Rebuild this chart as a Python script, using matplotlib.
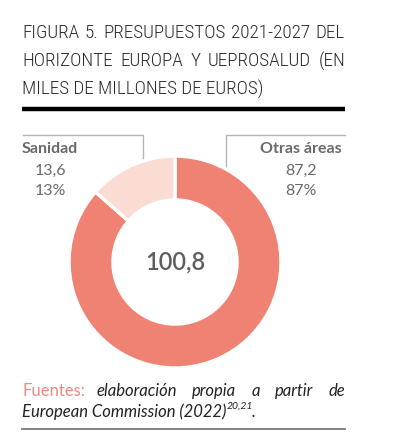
import matplotlib
matplotlib.use("Agg")
import matplotlib.pyplot as plt
from matplotlib import font_manager

# data
labels = ["Otras áreas", "Sanidad"]
values = [87.2, 13.6]
shares = ["87%", "13%"]
value_txt = ["87,2", "13,6"]
total_txt = "100,8"
colors = ["#f08273", "#fadcd3"]

title_lines = ["FIGURA 5. PRESUPUESTOS 2021-2027 DEL",
               "HORIZONTE EUROPA Y UEPROSALUD (EN",
               "MILES DE MILLONES DE EUROS)"]

W, H = 395, 448
fig = plt.figure(figsize=(W / 100, H / 100), dpi=100)
bg = fig.add_axes([0, 0, 1, 1])
bg.set_xlim(0, W)
bg.set_ylim(H, 0)
bg.axis("off")

avail = {f.name for f in font_manager.fontManager.ttflist}
cond = None
for name in ["Liberation Sans Narrow", "DejaVu Sans Condensed", "Roboto Condensed",
             "Open Sans Condensed", "Noto Sans Condensed"]:
    if name in avail:
        cond = name
        break
body = "Lato" if "Lato" in avail else "DejaVu Sans"

renderer = fig.canvas.get_renderer()


def justify(words, y, x0, x1, **kw):
    arts = [bg.text(0, y, w, va="center", ha="left", **kw) for w in words]
    widths = [a.get_window_extent(renderer).width for a in arts]
    gap = (x1 - x0 - sum(widths)) / (len(words) - 1)
    x = x0
    for a, w in zip(arts, widths):
        a.set_x(x)
        x += w + gap
    return arts


tkw = dict(fontsize=13.8, color="#2a2a2a", family=cond or "DejaVu Sans", fontweight="light")
justify(title_lines[0].split(), 33, 22, 345, **tkw)
justify(title_lines[1].split(), 61, 22, 345, **tkw)
bg.text(22, 89, title_lines[2], va="center", ha="left", **tkw)
bg.plot([22, 345], [109.5, 109.5], color="black", lw=3.2, solid_capstyle="butt")

# donut
cx, cy, r = 175, 262, 106
ax = fig.add_axes([(cx - r) / W, (H - cy - r) / H, 2 * r / W, 2 * r / H])
ax.pie(values, colors=colors, startangle=90, counterclock=False, radius=1,
       wedgeprops=dict(width=0.415, edgecolor="white", linewidth=2.5))
ax.set_xlim(-1, 1)
ax.set_ylim(-1, 1)
ax.set_aspect("equal")
ax.axis("off")
ax.text(0, 0, total_txt, ha="center", va="center", fontsize=17, color="#5e5e5e",
        family=body, fontweight="semibold")

# leader lines
gray = "#b5b5b5"
bg.plot([23, 143, 143], [135, 135, 187], color=gray, lw=1)
bg.plot([345, 226, 226], [135, 135, 187], color=gray, lw=1)

lkw = dict(fontsize=11.5, color="#6a6a6a", family=body, ha="center", va="center")
bg.text(50, 149, labels[1], fontweight="bold", **lkw)
bg.text(50, 171, value_txt[1], **lkw)
bg.text(50, 191, shares[1], **lkw)
bg.text(301, 149, labels[0], fontweight="bold", **lkw)
bg.text(301, 171, value_txt[0], **lkw)
bg.text(301, 191, shares[0], **lkw)

# footer
fkw = dict(fontsize=12, family=body, style="italic", color="#222222")
arts = justify(["Fuentes:", "elaboración", "propia", "a", "partir", "de"], 391, 22, 345, **fkw)
arts[0].set_style("normal")
arts[0].set_color("#ec8a80")
t = bg.text(22, 412, "European Commission (2022)", va="center", ha="left", **fkw)
x = 22 + t.get_window_extent(renderer).width
s = bg.text(x, 406, "20,21", va="center", ha="left", fontsize=7.5, family=body,
            style="italic", color="#222222")
x += s.get_window_extent(renderer).width - 1
bg.text(x, 412, ".", va="center", ha="left", **fkw)
bg.plot([22, 345], [429, 429], color="#777777", lw=1.3)

fig.savefig("out.png", dpi=100, facecolor="white")
